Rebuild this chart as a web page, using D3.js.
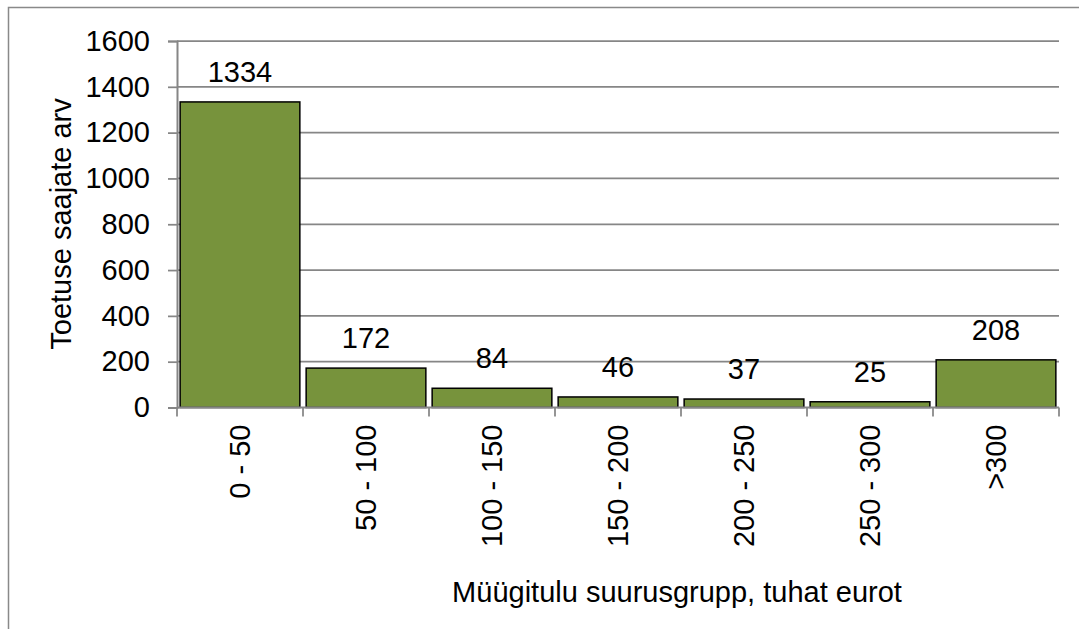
<!DOCTYPE html>
<html>
<head>
<meta charset="utf-8">
<script src="https://cdn.jsdelivr.net/npm/d3@7"></script>
<style>
  body { margin: 0; background: #fff; }
  text { font-family: Arial, "Liberation Sans", sans-serif; fill: #000; }
</style>
</head>
<body>
<div id="chart"></div>
<script>
const categories = ['0 - 50', '50 - 100', '100 - 150', '150 - 200', '200 - 250', '250 - 300', '>300']
const counts = [1334, 172, 84, 46, 37, 25, 208]
const yTicks = [0, 200, 400, 600, 800, 1000, 1200, 1400, 1600]

const WIDTH = 1079
const HEIGHT = 629
const fontSize = 29

const svg = d3
  .select('#chart')
  .append('svg')
    .attr('width', WIDTH)
    .attr('height', HEIGHT)

// outer chart border, runs off the right and bottom edges
svg.append('rect')
  .attr('x', 8.5)
  .attr('y', 7.5)
  .attr('width', WIDTH + 20)
  .attr('height', HEIGHT + 20)
  .attr('fill', 'none')
  .attr('stroke', '#898989')
  .attr('stroke-width', 1.5)

const x = d3
  .scaleBand()
  .domain(categories)
  .range([177, 1059])
  .paddingInner(0.05)
  .paddingOuter(0.025)

const xEdge = d3.scaleBand().domain(categories).range([177, 1059])

const y = d3.scaleLinear().domain([0, 1600]).range([407.5, 41])

// gridlines
svg.append('g')
  .selectAll('line')
  .data(yTicks.slice(1))
  .join('line')
    .attr('x1', 177)
    .attr('x2', 1059)
    .attr('y1', (d) => y(d))
    .attr('y2', (d) => y(d))
    .attr('stroke', '#868686')
    .attr('stroke-width', 1.75)

// y axis
const yAxis = svg.append('g')
  .attr('transform', 'translate(177,0)')
  .call(d3.axisLeft(y).tickValues(yTicks).tickFormat(d3.format('d')).tickSize(9).tickPadding(18))
yAxis.select('.domain').attr('stroke', '#868686').attr('stroke-width', 2)
yAxis.selectAll('.tick line').attr('stroke', '#868686').attr('stroke-width', 1.75)
yAxis.selectAll('.tick text')
  .attr('font-size', fontSize)
  .attr('font-family', 'Arial, "Liberation Sans", sans-serif')
  .attr('fill', '#000')

// bars
svg.append('g')
  .selectAll('rect')
  .data(counts)
  .join('rect')
    .attr('x', (d, i) => x(categories[i]))
    .attr('y', (d) => y(d))
    .attr('width', x.bandwidth())
    .attr('height', (d) => y(0) - y(d))
    .attr('fill', '#77933C')
    .attr('stroke', '#000')
    .attr('stroke-width', 1.5)

// value labels
svg.append('g')
  .selectAll('text')
  .data(counts)
  .join('text')
    .attr('x', (d, i) => xEdge(categories[i]) + xEdge.bandwidth() / 2)
    .attr('y', (d) => y(d) - 20)
    .attr('text-anchor', 'middle')
    .attr('font-size', fontSize)
    .text((d) => d)

// x axis
const xAxis = svg.append('g')
  .attr('transform', `translate(0,${y(0)})`)
xAxis.append('line')
  .attr('x1', 177)
  .attr('x2', 1059)
  .attr('stroke', '#868686')
  .attr('stroke-width', 2)
xAxis.selectAll('line.tk')
  .data(d3.range(categories.length + 1))
  .join('line')
    .attr('class', 'tk')
    .attr('x1', (i) => 177 + i * xEdge.step())
    .attr('x2', (i) => 177 + i * xEdge.step())
    .attr('y1', 0)
    .attr('y2', 9)
    .attr('stroke', '#868686')
    .attr('stroke-width', 1.75)
xAxis.selectAll('text')
  .data(categories)
  .join('text')
    .attr('transform', (d) => `translate(${xEdge(d) + xEdge.bandwidth() / 2},17) rotate(-90)`)
    .attr('text-anchor', 'end')
    .attr('dy', '0.35em')
    .attr('font-size', fontSize)
    .text((d) => d)

// axis titles
svg.append('text')
  .attr('transform', 'translate(71,224) rotate(-90)')
  .attr('text-anchor', 'middle')
  .attr('font-size', fontSize)
  .text('Toetuse saajate arv')

svg.append('text')
  .attr('x', 677)
  .attr('y', 602)
  .attr('text-anchor', 'middle')
  .attr('font-size', fontSize)
  .text('Müügitulu suurusgrupp, tuhat eurot')
</script>
</body>
</html>
